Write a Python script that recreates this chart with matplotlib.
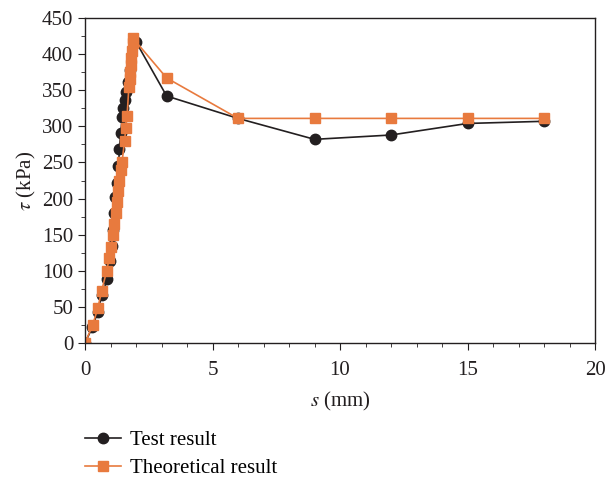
import matplotlib.pyplot as plt
from matplotlib.ticker import MultipleLocator

plt.rcParams['font.family'] = ['Liberation Serif', 'DejaVu Serif']
plt.rcParams['mathtext.fontset'] = 'stix'

# test result (black circles)
s_test = [0, 0.29, 0.5, 0.65, 0.88, 0.97, 1.05, 1.1, 1.15, 1.18, 1.24, 1.31, 1.35,
          1.4, 1.46, 1.5, 1.57, 1.62, 1.68, 1.75, 2.0, 3.2, 6.0, 9.0, 12.0, 15.0, 18.0]
tau_test = [0, 22, 43, 66, 88, 113, 135, 156, 180, 202, 222, 245, 268, 291,
            313, 325, 336, 348, 362, 378, 417, 342, 311, 282, 288, 304, 307]

# theoretical result (orange squares)
s_theo = [0, 0.3, 0.5, 0.65, 0.85, 0.95, 1.02, 1.1, 1.15, 1.2, 1.25, 1.3, 1.35, 1.4,
          1.45, 1.55, 1.6, 1.65, 1.72, 1.75, 1.78, 1.8, 1.82, 1.85, 1.87, 1.88,
          3.2, 6.0, 9.0, 12.0, 15.0, 18.0]
tau_theo = [0, 25, 48, 72, 100, 118, 133, 150, 165, 180, 195, 210, 225, 240,
            250, 280, 298, 315, 355, 365, 375, 385, 395, 405, 415, 422,
            367, 311, 311, 311, 311, 311]

fig = plt.figure(figsize=(6.13, 4.79), dpi=100)
ax = fig.add_axes([0.1387, 0.2839, 0.832, 0.6785])

ax.plot(s_test, tau_test, color='#231f20', lw=1.2, marker='o', ms=7.5,
        label='Test result')
ax.plot(s_theo, tau_theo, color='#e87a3e', lw=1.2, marker='s', ms=7.5,
        label='Theoretical result')

ax.set_xlim(0, 20)
ax.set_ylim(0, 450)
ax.xaxis.set_major_locator(MultipleLocator(5))
ax.xaxis.set_minor_locator(MultipleLocator(1))
ax.yaxis.set_major_locator(MultipleLocator(50))
ax.yaxis.set_minor_locator(MultipleLocator(25))
ax.tick_params(which='both', direction='out', labelsize=15, color='#231f20',
               labelcolor='#231f20')
ax.tick_params(which='major', length=5)
ax.tick_params(which='minor', length=3)
ax.tick_params(axis='x', pad=8)
for sp in ax.spines.values():
    sp.set_color('#231f20')
    sp.set_linewidth(1.0)

ax.set_xlabel(r'$s$ (mm)', fontsize=15, color='#231f20', labelpad=7)
ax.set_ylabel(r'$\tau$ (kPa)', fontsize=15, color='#231f20', labelpad=3)

ax.legend(loc='upper left', bbox_to_anchor=(0.122, 0.123), bbox_transform=fig.transFigure,
          frameon=False, fontsize=15, handlelength=1.7, handletextpad=0.45,
          labelspacing=0.4, borderpad=0)

fig.savefig('out.png', dpi=100)
